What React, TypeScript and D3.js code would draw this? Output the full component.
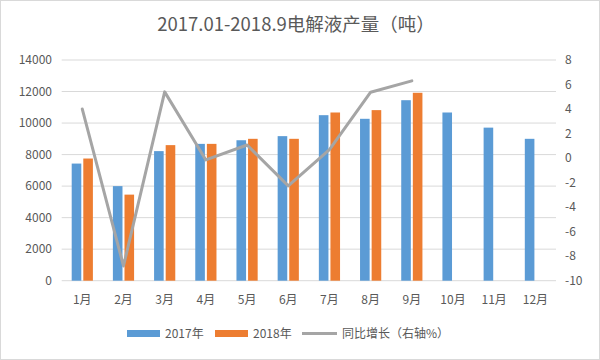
import React from "react";
import * as d3 from "d3";

const months = ["1月", "2月", "3月", "4月", "5月", "6月", "7月", "8月", "9月", "10月", "11月", "12月"];
const prod2017 = [7430, 6000, 8220, 8680, 8910, 9170, 10500, 10270, 11450, 10670, 9710, 9000];
const prod2018 = [7750, 5460, 8600, 8680, 9000, 9000, 10670, 10820, 11920];
const yoy = [4.0, -8.8, 5.4, -0.15, 1.07, -2.27, 0.7, 5.37, 6.3];
const leftTicks = [0, 2000, 4000, 6000, 8000, 10000, 12000, 14000];
const rightTicks = [-10, -8, -6, -4, -2, 0, 2, 4, 6, 8];

const W = 600, H = 360;
const L = 61.7, R = 556, T = 60, B = 280.7;
const FONT = "'Noto Sans CJK SC', 'Noto Sans', sans-serif";
const TXT = "#595959";

export default function App() {
  const x = d3.scaleBand<string>().domain(months).range([L, R]).paddingInner(0).paddingOuter(0);
  const yL = d3.scaleLinear().domain([0, 14000]).range([B, T]);
  const yR = d3.scaleLinear().domain([-10, 8]).range([B, T]);
  const bw = 9.6;
  const gap = 2;
  const line = d3
    .line<number>()
    .x((_, i) => x(months[i])! + x.bandwidth() / 2)
    .y((d) => yR(d));

  return (
    <div style={{ position: "absolute", left: 0, top: 0 }}>
      <svg width={W} height={H} style={{ display: "block", fontFamily: FONT }}>
        <rect x={0.5} y={0.5} width={W - 1} height={H - 1} fill="#fff" stroke="#d9d9d9" />
        <text x={296} y={25} dy="0.35em" textAnchor="middle" fontSize={18.5} fill={TXT}>
          2017.01-2018.9电解液产量（吨）
        </text>
        {leftTicks.map((t) => (
          <g key={t}>
            <line x1={L} x2={R} y1={yL(t)} y2={yL(t)} stroke="#d9d9d9" strokeWidth={1} />
            <text x={52} y={yL(t)} dy="0.35em" textAnchor="end" fontSize={12} fill={TXT}>
              {t}
            </text>
          </g>
        ))}
        {rightTicks.map((t) => (
          <text key={t} x={565} y={yR(t)} dy="0.35em" textAnchor="start" fontSize={12} fill={TXT}>
            {t}
          </text>
        ))}
        {prod2017.map((v, i) => {
          const c = x(months[i])! + x.bandwidth() / 2;
          return (
            <rect key={"a" + i} x={c - gap / 2 - bw} y={yL(v)} width={bw} height={B - yL(v)} fill="#5B9BD5" />
          );
        })}
        {prod2018.map((v, i) => {
          const c = x(months[i])! + x.bandwidth() / 2;
          return <rect key={"b" + i} x={c + gap / 2} y={yL(v)} width={bw} height={B - yL(v)} fill="#ED7D31" />;
        })}
        <path d={line(yoy)!} fill="none" stroke="#A5A5A5" strokeWidth={3} strokeLinejoin="round" strokeLinecap="round" />
        {months.map((m) => (
          <text key={m} x={x(m)! + x.bandwidth() / 2} y={300} dy="0.35em" textAnchor="middle" fontSize={12} fill={TXT}>
            {m}
          </text>
        ))}
        <g fontSize={12} fill={TXT}>
          <rect x={127} y={330} width={33} height={7} fill="#5B9BD5" />
          <text x={165} y={334} dy="0.35em">2017年</text>
          <rect x={215} y={330} width={33} height={7} fill="#ED7D31" />
          <text x={253} y={334} dy="0.35em">2018年</text>
          <line x1={302} x2={337} y1={333.5} y2={333.5} stroke="#A5A5A5" strokeWidth={3} />
          <text x={342} y={334} dy="0.35em">同比增长（右轴%）</text>
        </g>
      </svg>
    </div>
  );
}
